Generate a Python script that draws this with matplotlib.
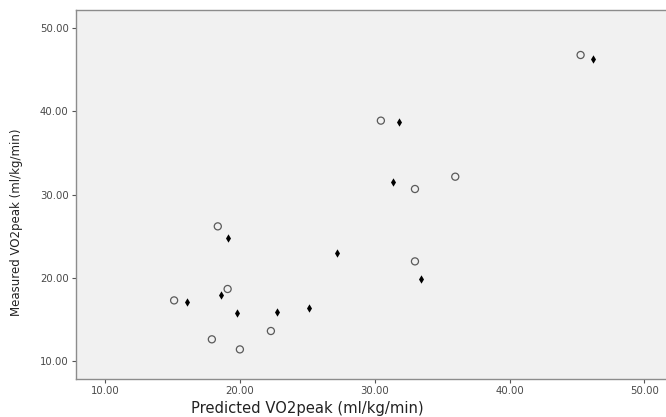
import matplotlib
matplotlib.use("Agg")
import matplotlib.pyplot as plt
from matplotlib.ticker import FormatStrFormatter

# Open circles
circle_pred = [45.27, 30.45, 35.97, 32.98, 18.35, 32.98, 19.08, 15.11, 22.29, 17.91, 19.99]
circle_meas = [46.79, 38.90, 32.16, 30.68, 26.19, 21.98, 18.66, 17.29, 13.61, 12.61, 11.40]
# Filled diamonds
diamond_pred = [46.21, 31.81, 31.37, 19.08, 27.18, 33.42, 18.60, 16.05, 19.77, 22.76, 25.10]
diamond_meas = [46.35, 38.78, 31.56, 24.79, 22.99, 19.90, 17.98, 17.09, 15.81, 15.89, 16.37]

ticks = [10, 20, 30, 40, 50]

fig = plt.figure(figsize=(6.66, 4.17), dpi=100)
W, H = 666, 417
left, right, top, bottom = 75.6, 674, 10, 379
ax = fig.add_axes([left / W, 1 - bottom / H, (right - left) / W, (bottom - top) / H])
ax.set_facecolor("#f1f1f1")

ax.scatter(circle_pred, circle_meas, s=26, facecolors="none", edgecolors="#5a5a5a", linewidths=0.9, zorder=3)
ax.scatter(diamond_pred, diamond_meas, s=18, marker="d", color="black", linewidths=0, zorder=3)

ax.set_xlim(7.8, 52.2)
ax.set_ylim(7.84, 52.2)
ax.set_xticks(ticks)
ax.set_yticks(ticks)
ax.xaxis.set_major_formatter(FormatStrFormatter("%.2f"))
ax.yaxis.set_major_formatter(FormatStrFormatter("%.2f"))
ax.tick_params(axis="both", labelsize=7.3, labelcolor="#484848", color="#555555", length=3, width=0.8, pad=2)

for s in ax.spines.values():
    s.set_color("#8c8c8c")
    s.set_linewidth(1.0)

fig.text(307 / W, 1 - 416.5 / H, "Predicted VO2peak (ml/kg/min)", ha="center", va="bottom",
         fontsize=10.6, color="#222222")
fig.text(17 / W, 1 - 222 / H, "Measured VO2peak (ml/kg/min)", ha="center", va="center",
         rotation=90, fontsize=8.5, color="#222222")

fig.savefig("out.png", dpi=100)
